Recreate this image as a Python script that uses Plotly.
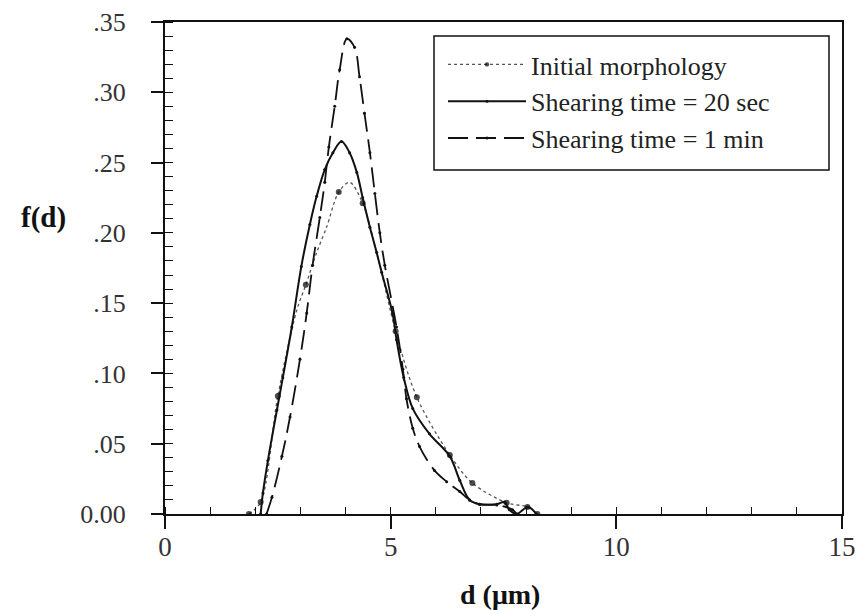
import plotly.graph_objects as go

# Initial morphology (dotted); init_sampled marks the measured points drawn as dots
init_x = [1.86, 2.12, 2.50, 2.92, 3.12, 3.36, 3.58, 3.85, 4.09, 4.38, 4.75, 5.11, 5.58, 6.31, 6.81, 7.57, 8.03, 8.25]
init_y = [0.000, 0.0085, 0.084, 0.145, 0.163, 0.186, 0.204, 0.229, 0.236, 0.221, 0.178, 0.130, 0.083, 0.042, 0.022, 0.008, 0.005, 0.000]
init_sampled = [1, 1, 1, 0, 1, 0, 0, 1, 0, 1, 0, 1, 1, 1, 1, 1, 1, 1]

# Shearing time = 20 sec (solid)
s20_x = [2.12, 2.17, 2.28, 2.48, 2.61, 2.81, 3.02, 3.21, 3.36, 3.54, 3.72, 3.91, 4.09, 4.25, 4.38, 4.54, 4.69, 4.80,
         5.04, 5.13, 5.29, 5.49, 5.86, 6.31, 6.53, 6.75, 6.97, 7.35, 7.52, 7.63, 7.79, 8.04, 8.23]
s20_y = [0.000, 0.015, 0.038, 0.074, 0.097, 0.133, 0.176, 0.206, 0.226, 0.245, 0.257, 0.265, 0.257, 0.243, 0.225, 0.204, 0.186, 0.172,
         0.143, 0.124, 0.097, 0.075, 0.057, 0.041, 0.024, 0.010, 0.007, 0.007, 0.0085, 0.003, 0.000, 0.005, 0.000]

# Shearing time = 1 min (long dash)
s1_x = [2.25, 2.37, 2.59, 2.77, 2.99, 3.14, 3.27, 3.43, 3.54, 3.63, 3.76, 3.87, 4.03, 4.20, 4.31, 4.42, 4.54, 4.65, 4.76, 4.87,
        5.13, 5.27, 5.35, 5.49, 5.64, 5.97, 6.24, 6.53, 6.75, 6.97, 7.35, 7.70, 7.79]
s1_y = [0.000, 0.012, 0.041, 0.069, 0.110, 0.143, 0.177, 0.211, 0.236, 0.261, 0.290, 0.316, 0.338, 0.332, 0.311, 0.285, 0.257, 0.228, 0.200, 0.177,
        0.133, 0.103, 0.082, 0.061, 0.048, 0.031, 0.023, 0.016, 0.010, 0.007, 0.0064, 0.003, 0.000]

names = ["Initial morphology", "Shearing time = 20 sec", "Shearing time = 1 min"]

y_tickvals = [0, 0.05, 0.10, 0.15, 0.20, 0.25, 0.30, 0.35]
y_ticktext = ["0.00", ".05", ".10", ".15", ".20", ".25", ".30", ".35"]
x_tickvals = [0, 5, 10, 15]

SERIF = "Liberation Serif, Times New Roman, serif"
INK = "#111111"

# plot-area geometry (px) used for placing paper-referenced items
L, R, T, B = 165, 842, 22, 514
W, H = R - L, B - T


def px_x(p):
    return (p - L) / W


def px_y(p):
    return (B - p) / H


fig = go.Figure()
fig.add_trace(go.Scatter(
    x=init_x, y=init_y, name=names[0], mode="lines+markers",
    line=dict(color="#555555", width=1.3, dash="dot", shape="spline", smoothing=0.9),
    marker=dict(color="#000000", size=[6 if s else 0 for s in init_sampled], line=dict(width=0))))
fig.add_trace(go.Scatter(
    x=s20_x, y=s20_y, name=names[1], mode="lines+markers",
    line=dict(color=INK, width=2, shape="spline", smoothing=1.0),
    marker=dict(color=INK, size=3)))
fig.add_trace(go.Scatter(
    x=s1_x, y=s1_y, name=names[2], mode="lines+markers",
    line=dict(color=INK, width=1.8, dash="20px,8px", shape="spline", smoothing=1.0),
    marker=dict(color=INK, size=3)))

fig.update_layout(
    width=860, height=610,
    margin=dict(l=L, r=860 - R, t=T, b=610 - B, autoexpand=False),
    paper_bgcolor="white", plot_bgcolor="white",
    font=dict(family=SERIF, color="#333333", size=26),
    showlegend=True,
    legend=dict(
        x=px_x(443), y=px_y(41), xanchor="left", yanchor="top",
        borderwidth=0, bgcolor="rgba(0,0,0,0)",
        font=dict(family=SERIF, size=26, color="#222222"),
        itemwidth=78, tracegroupgap=0),
    shapes=[dict(type="rect", xref="paper", yref="paper",
                 x0=px_x(434), x1=px_x(829), y0=px_y(170), y1=px_y(36),
                 line=dict(color=INK, width=1.5), fillcolor="rgba(0,0,0,0)", layer="above")],
    annotations=[
        dict(text="<b>f(d)</b>", x=px_x(43), y=px_y(218), xref="paper", yref="paper", showarrow=False,
             xanchor="center", yanchor="middle", font=dict(family=SERIF, size=29, color="#111111")),
        dict(text="<b>d (μm)</b>", x=px_x(500), y=px_y(594), xref="paper", yref="paper", showarrow=False,
             xanchor="center", yanchor="middle", font=dict(family=SERIF, size=28, color="#111111")),
    ],
)

fig.update_xaxes(
    range=[0, 15], tickvals=x_tickvals, ticks="outside", ticklen=13, tickwidth=1.5,
    tickcolor=INK, showline=True, linecolor=INK, linewidth=2, mirror=True,
    showgrid=False, zeroline=False, automargin=False, ticklabelstandoff=-5,
    minor=dict(dtick=1, ticks="inside", ticklen=7, tickwidth=1.2, tickcolor=INK, showgrid=False),
    tickfont=dict(family=SERIF, size=27, color="#333333"))
fig.update_yaxes(
    range=[0, 0.35], tickvals=y_tickvals, ticktext=y_ticktext, ticks="outside", ticklen=12,
    tickwidth=1.5, tickcolor=INK, showline=True, linecolor=INK, linewidth=2, mirror=True,
    showgrid=False, zeroline=False, automargin=False, ticklabelstandoff=20,
    minor=dict(tickvals=[i / 100 for i in range(36)], ticks="inside", ticklen=8, tickwidth=1.2,
               tickcolor=INK, showgrid=False),
    tickfont=dict(family=SERIF, size=26, color="#333333"))

fig.write_html("out.html")
